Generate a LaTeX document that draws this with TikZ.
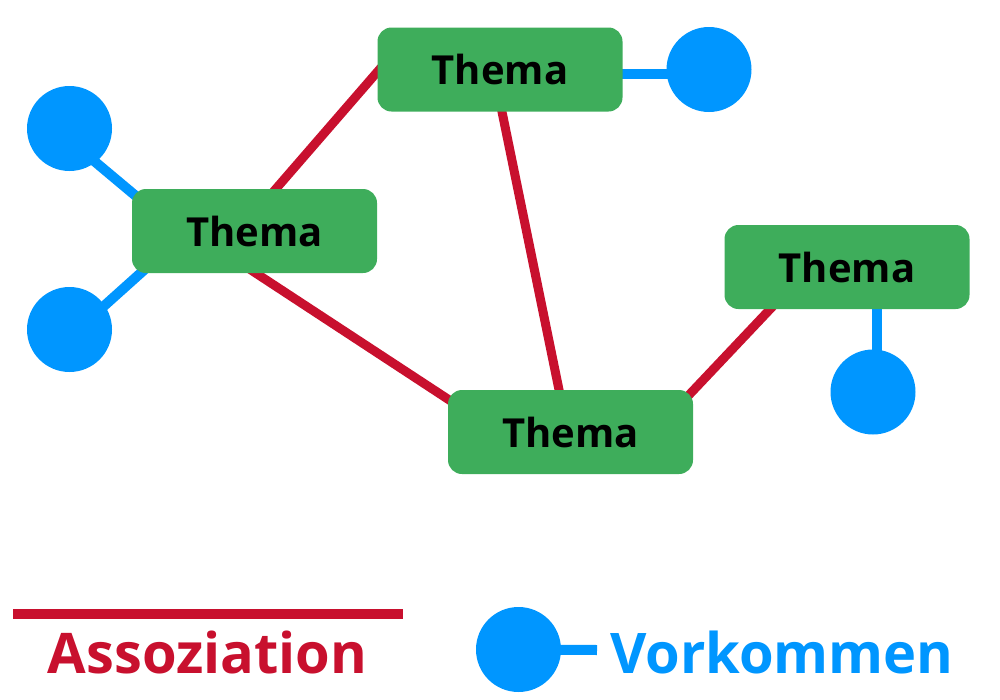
\documentclass[tikz,border=0pt]{standalone}
\usepackage{fontspec}
\setmainfont{Open Sans}
\usetikzlibrary{calc}
\pgfdeclarelayer{background}
\pgfsetlayers{background,main}
\definecolor{assred}{RGB}{200,16,46}
\definecolor{vorblue}{RGB}{0,150,255}
\definecolor{themagreen}{RGB}{62,173,91}
\tikzset{
  thema/.style={fill=themagreen, rounded corners=10.5pt, minimum width=183.75pt, minimum height=63pt,
    inner sep=0pt, font=\fontsize{30}{36}\selectfont\bfseries, text=black},
  occ/.style={circle, fill=vorblue, minimum size=63.75pt, inner sep=0pt},
  assoc/.style={draw=assred, line width=6.75pt, shorten <=-8pt, shorten >=-8pt},
  occline/.style={draw=vorblue, line width=7.5pt},
  legendtext/.style={font=\fontsize{42}{48}\selectfont\bfseries, inner sep=0pt, anchor=base}
}
\begin{document}
\begin{tikzpicture}[x=0.75pt,y=-0.75pt]
\path[use as bounding box] (0,0) rectangle (1000,700);

% topic boxes
\node[thema] (A) at (254.5,231) {Thema};
\node[thema] (B) at (500,69.5) {Thema};
\node[thema] (C) at (847,267) {Thema};
\node[thema] (D) at (570.5,432) {Thema};

% occurrences
\node[occ] (o1) at (69.5,128.5) {};
\node[occ] (o2) at (69.5,329.5) {};
\node[occ] (o3) at (709,69.5) {};
\node[occ] (o4) at (873,392) {};

\begin{pgfonlayer}{background}
% associations
\draw[assoc] ($(A.north)+(21.5,0)$) -- ($(B.west)+(0,2.5)$);
\draw[assoc] ($(A.south)+(1.5,0)$) -- ($(D.west)+(0,-33)$);
\draw[assoc] ($(B.south)+(2,0)$) -- ($(D.north)+(-11.5,0)$);
\draw[assoc] ($(D.north east)+(-5,6)$) -- ($(C.south)+(-77,0)$);
% occurrence connectors
\draw[occline] ($(o1.center)+(5.5,16.5)$) -- ($(A.west)+(28,-15)$);
\draw[occline] ($(o2.center)+(5.5,2.5)$) -- ($(A.west)+(28,25)$);
\draw[occline] ($(B.east)+(-20,4.5)$) -- ($(o3.center)+(0,4.5)$);
\draw[occline] ($(C.south)+(30,-20)$) -- ($(o4.center)+(4,0)$);
\end{pgfonlayer}

% legend
\coordinate (l1) at (13,614);
\coordinate (l2) at (403,614);
\draw[draw=assred, line width=7pt] (l1) -- (l2);
\node[legendtext, text=assred] (la) at (207.5,673) {Assoziation};

\coordinate (lend) at (597,650);
\node[occ] (lo) at (518.5,649.5) {};
\begin{pgfonlayer}{background}
\draw[occline] (lo.center) -- (lend);
\end{pgfonlayer}
\node[legendtext, text=vorblue] (lv) at (782,673) {Vorkommen};
\end{tikzpicture}
\end{document}
